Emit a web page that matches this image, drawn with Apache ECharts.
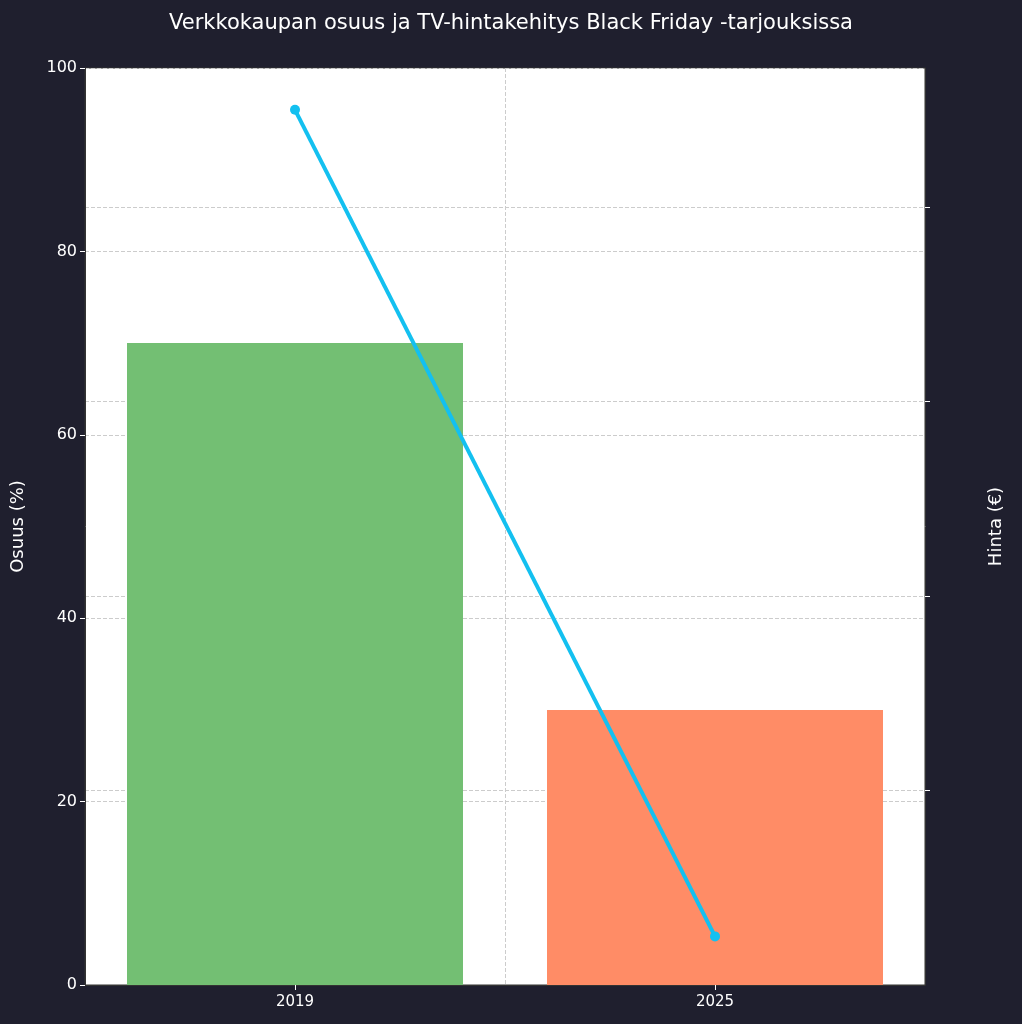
<!DOCTYPE html>
<html><head><meta charset="utf-8">
<script src="https://cdn.jsdelivr.net/npm/echarts@6/dist/echarts.min.js"></script>
<style>html,body{margin:0;background:#1f1f2e}#c{width:1022px;height:1024px}</style>
</head><body><div id="c"></div>
<script>
const categories = ['2019', '2025'];
const shareValues = [70, 30];
const priceValues = [1800, 950];
const barColors = ['#73bf73', '#ff8c66'];
const chart = echarts.init(document.getElementById('c'));
const grid = {lineStyle: {color: '#cccccc', type: 'dashed', width: 1}};
chart.setOption({
  backgroundColor: '#1f1f2e',
  textStyle: {fontFamily: 'DejaVu Sans'},
  title: {text: 'Verkkokaupan osuus ja TV-hintakehitys Black Friday -tarjouksissa', left: 'center', top: 8,
    textStyle: {color: '#ffffff', fontSize: 21, fontWeight: 'normal'}},
  grid: {left: 85, right: 97, top: 68, bottom: 39, show: true, backgroundColor: '#ffffff', borderColor: '#333', borderWidth: 1},
  xAxis: {type: 'category', data: categories,
    axisLine: {lineStyle: {color: '#333'}}, axisTick: {show: true, alignWithLabel: true, lineStyle: {color: '#fff'}},
    axisLabel: {color: '#ffffff', fontSize: 15, margin: 10},
    splitLine: {show: true, ...grid}},
  yAxis: [
    {type: 'value', min: 0, max: 100, interval: 20, name: 'Osuus (%)', nameLocation: 'middle', nameGap: 58,
     nameTextStyle: {color: '#ffffff', fontSize: 18},
     axisLine: {show: true, lineStyle: {color: '#333'}}, axisTick: {show: true, lineStyle: {color: '#fff'}},
     axisLabel: {color: '#ffffff', fontSize: 16}, splitLine: {show: true, ...grid}},
    {type: 'value', min: 900, max: 1843, interval: 200, name: 'Hinta (€)', nameLocation: 'middle', nameGap: 62,
     nameTextStyle: {color: '#ffffff', fontSize: 18},
     axisLine: {show: true, lineStyle: {color: '#333'}}, axisTick: {show: true, lineStyle: {color: '#fff'}},
     axisLabel: {color: '#ffffff', fontSize: 16, showMinLabel: false, showMaxLabel: false,
       formatter: v => (v % 200 === 0 ? v : '')},
     splitLine: {show: true, ...grid}}
  ],
  series: [
    {type: 'bar', yAxisIndex: 0, barWidth: '80%',
     data: shareValues.map((v, i) => ({value: v, itemStyle: {color: barColors[i]}}))},
    {type: 'line', yAxisIndex: 1, data: priceValues, symbol: 'circle', symbolSize: 10,
     lineStyle: {color: '#13c0f0', width: 4}, itemStyle: {color: '#13c0f0'}, z: 5}
  ]
});
</script></body></html>
